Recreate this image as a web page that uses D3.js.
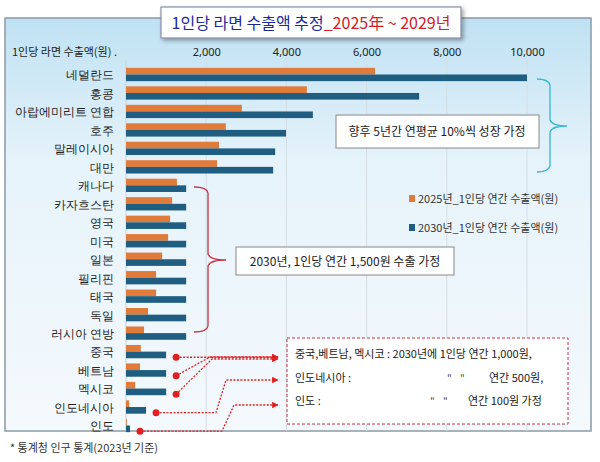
<!DOCTYPE html>
<html><head><meta charset="utf-8">
<script src="https://cdn.jsdelivr.net/npm/d3@7"></script>
<style>body{margin:0;background:#fff;font-family:"Noto Sans CJK KR","Noto Sans",sans-serif}</style>
</head><body><div id="viz_container"></div>
<script>
const countries = ["네덜란드","홍콩","아랍에미리트 연합","호주","말레이시아","대만","캐나다","카자흐스탄","영국","미국","일본","필리핀","태국","독일","러시아 연방","중국","베트남","멕시코","인도네시아","인도"];
const values2025 = [6210,4510,2890,2490,2320,2270,1270,1150,1100,1050,900,750,750,550,450,370,350,230,80,20];
const values2030 = [10000,7310,4660,3990,3720,3670,1500,1500,1500,1500,1500,1500,1500,1500,1500,1000,1000,1000,500,100];
const tickValues = [2000,4000,6000,8000,10000];
const seriesNames = ["2025년_1인당 연간 수출액(원)","2030년_1인당 연간 수출액(원)"];
const colors = ["#E07B39","#1F5E80"];

const svg = d3.select("#viz_container").append("svg").attr("width",600).attr("height",462);
const defs = svg.append("defs");
const grad = defs.append("linearGradient").attr("id","bg").attr("x1",0).attr("y1",0).attr("x2",0).attr("y2",1);
grad.append("stop").attr("offset","0%").attr("stop-color","#BFE1F3");
grad.append("stop").attr("offset","35%").attr("stop-color","#E6F3FA");
grad.append("stop").attr("offset","100%").attr("stop-color","#F4F9FD");
defs.append("marker").attr("id","arr").attr("viewBox","0 0 10 10").attr("refX",9).attr("refY",5)
  .attr("markerWidth",5).attr("markerHeight",5).attr("orient","auto")
  .append("path").attr("d","M0,0L10,5L0,10z").attr("fill","#E02020");

// panel
svg.append("rect").attr("x",5).attr("y",18).attr("width",586).attr("height",413)
  .attr("fill","url(#bg)").attr("stroke","#8A9AA6").attr("stroke-width",1.5);

const x = d3.scaleLinear().domain([0,10000]).range([126,527]);
const y = d3.scaleBand().domain(countries).range([66,434]).paddingInner(0.28).paddingOuter(0.1);
const bh = y.bandwidth()/2;

// grid
svg.append("g").selectAll("line").data(tickValues).join("line")
  .attr("x1",d=>x(d)).attr("x2",d=>x(d)).attr("y1",60).attr("y2",431)
  .attr("stroke","#D5DDE3").attr("stroke-width",1);
svg.append("line").attr("x1",x(0)).attr("x2",x(0)).attr("y1",60).attr("y2",431).attr("stroke","#C8D0D6");

// axis labels
svg.append("g").attr("transform","translate(0,56)")
  .call(d3.axisTop(x).tickValues(tickValues).tickSize(0).tickPadding(0).tickFormat(d3.format(",")))
  .call(g=>g.select(".domain").remove())
  .call(g=>g.selectAll("text").attr("font-size",11).attr("fill","#222").attr("font-family","Liberation Sans Narrow, Noto Sans, sans-serif"));
svg.append("text").attr("x",12).attr("y",56).attr("font-size",11).attr("fill","#222").text("1인당 라면 수출액(원) .");

svg.append("g").attr("transform",`translate(${x(0)-12},1)`)
  .call(d3.axisLeft(y).tickSize(0).tickPadding(0))
  .call(g=>g.select(".domain").remove())
  .call(g=>g.selectAll("text").attr("font-size",12).attr("fill","#222"));

// bars
svg.append("g").attr("fill",colors[0]).selectAll("rect").data(countries).join("rect")
  .attr("x",x(0)).attr("y",d=>y(d)).attr("height",bh).attr("width",(d,i)=>x(values2025[i])-x(0));
svg.append("g").attr("fill",colors[1]).selectAll("rect").data(countries).join("rect")
  .attr("x",x(0)).attr("y",d=>y(d)+bh).attr("height",bh).attr("width",(d,i)=>x(values2030[i])-x(0));

// legend
seriesNames.forEach((s,i)=>{
  const ly = 203 + i*29;
  svg.append("rect").attr("x",409).attr("y",ly-8).attr("width",6).attr("height",7).attr("fill",colors[i]);
  svg.append("text").attr("x",418).attr("y",ly).attr("font-size",11).attr("fill","#333").text(s);
});

// title
svg.append("rect").attr("x",161).attr("y",7).attr("width",300).attr("height",31)
  .attr("fill","#fff").attr("stroke","#8A8FB0").attr("stroke-width",1.2)
  .style("filter","drop-shadow(2px 2px 2px rgba(0,0,0,0.35))");
const tt = svg.append("text").attr("x",311).attr("y",29).attr("text-anchor","middle").attr("font-size",16);
tt.append("tspan").attr("fill","#1A2A9A").text("1인당 라면 수출액 추정");
tt.append("tspan").attr("fill","#D0202A").text("_2025年 ~ 2029년");

// annotation 1
svg.append("path").attr("d","M537,79 Q548,79 550,85 L550,120 Q552,126 567,126 Q552,126 550,132 L550,166 Q548,172 537,172")
  .attr("fill","none").attr("stroke","#33B8D0").attr("stroke-width",1.3);
svg.append("rect").attr("x",336).attr("y",115).attr("width",203).attr("height",33).attr("fill","#fff").attr("stroke","#888");
svg.append("text").attr("x",437).attr("y",136).attr("text-anchor","middle").attr("font-size",12).attr("fill","#222").text("향후 5년간 연평균 10%씩 성장 가정");

// annotation 2
svg.append("path").attr("d","M194,187 Q207,187 208,193 L208,254 Q210,260 226,260 Q210,260 208,266 L208,326 Q207,332 194,332")
  .attr("fill","none").attr("stroke","#C83040").attr("stroke-width",1.3);
svg.append("rect").attr("x",236).attr("y",247).attr("width",218).attr("height",28).attr("fill","#fff").attr("stroke","#888");
svg.append("text").attr("x",345).attr("y",266).attr("text-anchor","middle").attr("font-size",12).attr("fill","#222").text("2030년, 1인당 연간 1,500원 수출 가정");

// annotation 3
svg.append("rect").attr("x",287).attr("y",338).attr("width",281).attr("height",86).attr("fill","#fff")
  .attr("stroke","#C83040").attr("stroke-dasharray","3,2");
const notes = [["중국,베트남, 멕시코 : 2030년에  1인당 연간 1,000원,",295,358],["인도네시아 :",295,382],["연간 500원,",489,382],["인도 :",295,405],["연간 100원 가정",468,405]];
notes.forEach(n=>svg.append("text").attr("x",n[1]).attr("y",n[2]).attr("font-size",11).attr("fill","#222").text(n[0]));
[[447,382],[460,382],[430,405],[443,405]].forEach(p=>svg.append("text").attr("x",p[0]).attr("y",p[1]).attr("font-size",10).attr("fill","#444").text("\""));

const callouts = [["중국",355,"M{x},{y} L278,{y}"],["베트남",356,"M{x},{y} L210,357 L278,357"],["멕시코",359,"M{x},{y} L212,359 L278,359"],["인도네시아",380,"M{x},{y} L216,{y} L226,380 L278,380"],["인도",405,"M{x},{y} L222,{y} L234,405 L278,405"]];
callouts.forEach(c=>{
  const i = countries.indexOf(c[0]);
  const px = x(values2030[i]) + 10, py = y(c[0]) + bh*2 - 1;
  const d = c[2].replace(/\{x\}/g,px).replace(/\{y\}/g,py);
  svg.append("path").attr("d",d).attr("fill","none").attr("stroke","#E02020").attr("stroke-width",1.3)
    .attr("stroke-dasharray","2,1.5").attr("marker-end","url(#arr)");
  svg.append("circle").attr("cx",px).attr("cy",py).attr("r",3.5).attr("fill","#E02020");
});

svg.append("text").attr("x",10).attr("y",452).attr("font-size",11).attr("fill","#333").text("* 통계청 인구 통계(2023년 기준)");
</script></body></html>
